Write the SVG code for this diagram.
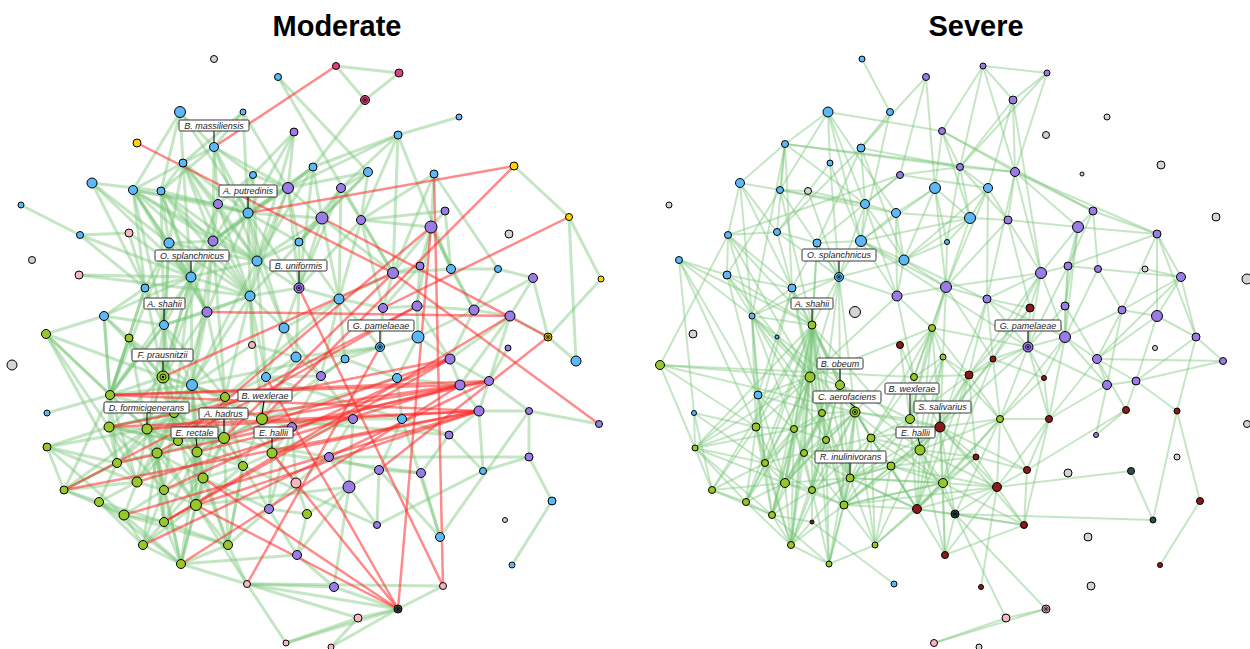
<svg xmlns="http://www.w3.org/2000/svg" width="1250" height="649" viewBox="0 0 1250 649">
<style>
.ge path{fill:none;stroke:#74c474;stroke-opacity:.42;stroke-width:3;stroke-linecap:round}
.gr path{fill:none;stroke:#74c474;stroke-opacity:.42;stroke-width:2;stroke-linecap:round}
.re path{fill:none;stroke:#ff2a2a;stroke-opacity:.55;stroke-width:2.5;stroke-linecap:round}
circle{stroke:#000;stroke-width:1}
.b{fill:#5cb8f7}.p{fill:#9b7be6}.g{fill:#97c72b}.k{fill:#f8b5c2}.y{fill:#d3d3d3}.o{fill:#ffd400}.m{fill:#e0407b}.d{fill:#8b1a1a}.s{fill:#2f4f4f}.n{fill:#4a4a4a}
.dr{fill:none;stroke:#000;stroke-width:.8}
.dt{fill:#000;stroke:none}
.lb rect{fill:#fff;stroke:#222;stroke-width:.9}
.lb line{stroke:#000;stroke-width:1}
.lb text{font-family:"Liberation Sans",Arial,sans-serif;font-style:italic;font-size:9px;fill:#222;text-anchor:middle}
.t{font-family:"Liberation Sans",Arial,sans-serif;font-weight:bold;font-size:29px;fill:#000;text-anchor:middle}
</style>
<rect width="1250" height="649" fill="#fff"/>
<text class="t" x="337" y="36">Moderate</text>
<text class="t" x="976" y="36">Severe</text>
<g id="connectors">
<g class="ge">
<path d="M278 77L368 172"/><path d="M278 77L393 273"/><path d="M336 66L399 73"/><path d="M336 66L365 100"/><path d="M399 73L365 100"/><path d="M365 100L313 167"/>
<path d="M180 112L183 163"/><path d="M180 112L133 190"/><path d="M180 112L214 147"/><path d="M243 112L214 147"/><path d="M243 112L183 163"/><path d="M214 147L183 163"/>
<path d="M214 147L161 191"/><path d="M214 147L248 213"/><path d="M214 147L253 175"/><path d="M214 147L288 188"/><path d="M183 163L133 190"/><path d="M183 163L161 191"/>
<path d="M183 163L169 243"/><path d="M183 163L191 277"/><path d="M183 163L248 213"/><path d="M183 163L218 204"/><path d="M92 183L145 288"/><path d="M21 205L80 235"/>
<path d="M80 235L129 233"/><path d="M129 233L191 277"/><path d="M133 190L248 213"/><path d="M133 190L169 243"/><path d="M133 190L191 277"/><path d="M133 190L250 296"/>
<path d="M133 190L164 325"/><path d="M133 190L213 241"/><path d="M161 191L248 213"/><path d="M161 191L169 243"/><path d="M161 191L191 277"/><path d="M161 191L257 261"/>
<path d="M161 191L207 312"/><path d="M459 117L398 135"/><path d="M398 135L313 167"/><path d="M398 135L288 188"/><path d="M398 135L393 273"/><path d="M398 135L451 269"/>
<path d="M398 135L361 220"/><path d="M398 135L341 188"/><path d="M434 174L431 227"/><path d="M434 174L498 269"/><path d="M434 174L393 273"/><path d="M434 174L361 220"/>
<path d="M368 172L341 188"/><path d="M368 172L361 220"/><path d="M368 172L322 218"/><path d="M368 172L288 188"/><path d="M514 166L569 217"/><path d="M569 217L576 361"/>
<path d="M569 217L601 279"/><path d="M313 167L288 188"/><path d="M313 167L322 218"/><path d="M313 167L248 213"/><path d="M313 167L213 241"/><path d="M294 132L288 188"/>
<path d="M294 132L248 213"/><path d="M294 132L253 175"/><path d="M253 175L248 213"/><path d="M253 175L218 204"/><path d="M288 188L248 213"/><path d="M288 188L257 261"/>
<path d="M288 188L299 288"/><path d="M288 188L299 242"/><path d="M288 188L322 218"/><path d="M341 188L322 218"/><path d="M341 188L361 220"/><path d="M341 188L299 288"/>
<path d="M341 188L339 299"/><path d="M218 204L248 213"/><path d="M218 204L213 241"/><path d="M248 213L213 241"/><path d="M248 213L257 261"/><path d="M248 213L299 242"/>
<path d="M248 213L191 277"/><path d="M248 213L250 296"/><path d="M248 213L299 288"/><path d="M248 213L284 328"/><path d="M248 213L322 218"/><path d="M445 211L431 227"/>
<path d="M445 211L361 220"/><path d="M445 211L451 269"/><path d="M322 218L299 288"/><path d="M322 218L250 296"/><path d="M322 218L339 299"/><path d="M322 218L393 273"/>
<path d="M361 220L431 227"/><path d="M361 220L393 273"/><path d="M361 220L383 308"/><path d="M431 227L420 266"/><path d="M431 227L393 273"/><path d="M431 227L417 306"/>
<path d="M431 227L474 310"/><path d="M431 227L451 269"/><path d="M169 243L191 277"/><path d="M169 243L164 325"/><path d="M169 243L213 241"/><path d="M213 241L191 277"/>
<path d="M213 241L250 296"/><path d="M213 241L207 312"/><path d="M299 242L299 288"/><path d="M299 242L257 261"/><path d="M257 261L250 296"/><path d="M257 261L299 288"/>
<path d="M79 275L191 277"/><path d="M79 275L250 296"/><path d="M191 277L164 325"/><path d="M191 277L250 296"/><path d="M191 277L207 312"/><path d="M191 277L163 377"/>
<path d="M191 277L192 385"/><path d="M145 288L164 325"/><path d="M145 288L163 377"/><path d="M145 288L169 243"/><path d="M299 288L250 296"/><path d="M299 288L284 328"/>
<path d="M299 288L296 357"/><path d="M250 296L207 312"/><path d="M250 296L284 328"/><path d="M250 296L192 385"/><path d="M250 296L266 377"/><path d="M207 312L164 325"/>
<path d="M207 312L192 385"/><path d="M207 312L163 377"/><path d="M207 312L225 397"/><path d="M104 316L164 325"/><path d="M104 316L163 377"/><path d="M104 316L129 338"/>
<path d="M164 325L163 377"/><path d="M164 325L192 385"/><path d="M164 325L174 413"/><path d="M164 325L147 429"/><path d="M46 334L104 316"/><path d="M46 334L163 377"/>
<path d="M46 334L109 427"/><path d="M129 338L163 377"/><path d="M129 338L110 395"/><path d="M284 328L296 357"/><path d="M284 328L266 377"/><path d="M284 328L339 299"/>
<path d="M296 357L266 377"/><path d="M296 357L262 419"/><path d="M296 357L321 376"/><path d="M163 377L192 385"/><path d="M163 377L110 395"/><path d="M163 377L225 397"/>
<path d="M163 377L147 429"/><path d="M163 377L174 413"/><path d="M163 377L224 438"/><path d="M163 377L178 441"/><path d="M163 377L197 452"/><path d="M266 377L262 419"/>
<path d="M266 377L225 397"/><path d="M192 385L225 397"/><path d="M192 385L262 419"/><path d="M192 385L174 413"/><path d="M192 385L224 438"/><path d="M110 395L147 429"/>
<path d="M110 395L109 427"/><path d="M110 395L174 413"/><path d="M110 395L117 463"/><path d="M225 397L262 419"/><path d="M225 397L224 438"/><path d="M225 397L272 453"/>
<path d="M262 419L224 438"/><path d="M262 419L272 453"/><path d="M262 419L243 466"/><path d="M147 429L174 413"/><path d="M147 429L109 427"/><path d="M147 429L178 441"/>
<path d="M147 429L157 453"/><path d="M147 429L117 463"/><path d="M147 429L137 482"/><path d="M174 413L178 441"/><path d="M174 413L224 438"/><path d="M174 413L197 452"/>
<path d="M224 438L178 441"/><path d="M224 438L197 452"/><path d="M224 438L243 466"/><path d="M224 438L203 478"/><path d="M109 427L47 447"/><path d="M109 427L117 463"/>
<path d="M109 427L157 453"/><path d="M178 441L197 452"/><path d="M178 441L157 453"/><path d="M178 441L203 478"/><path d="M197 452L203 478"/><path d="M197 452L196 505"/>
<path d="M197 452L243 466"/><path d="M272 453L243 466"/><path d="M272 453L269 509"/><path d="M272 453L296 483"/><path d="M47 447L117 463"/><path d="M47 447L64 490"/>
<path d="M117 463L137 482"/><path d="M117 463L64 490"/><path d="M117 463L99 502"/><path d="M157 453L137 482"/><path d="M157 453L164 490"/><path d="M157 453L203 478"/>
<path d="M137 482L164 490"/><path d="M137 482L99 502"/><path d="M137 482L124 515"/><path d="M203 478L164 490"/><path d="M203 478L196 505"/><path d="M64 490L99 502"/>
<path d="M64 490L124 515"/><path d="M164 490L196 505"/><path d="M164 490L164 522"/><path d="M99 502L124 515"/><path d="M196 505L164 522"/><path d="M196 505L228 545"/>
<path d="M196 505L181 564"/><path d="M124 515L143 545"/><path d="M124 515L164 522"/><path d="M164 522L181 564"/><path d="M164 522L143 545"/><path d="M143 545L181 564"/>
<path d="M228 545L181 564"/><path d="M243 466L228 545"/><path d="M243 466L269 509"/><path d="M307 514L297 555"/><path d="M269 509L307 514"/><path d="M228 545L269 509"/>
<path d="M296 483L307 514"/><path d="M47 413L110 395"/><path d="M247 584L286 643"/><path d="M247 584L398 609"/><path d="M247 584L358 618"/><path d="M247 584L334 587"/>
<path d="M247 584L443 586"/><path d="M286 643L358 618"/><path d="M286 643L398 609"/><path d="M398 609L358 618"/><path d="M398 609L331 647"/><path d="M398 609L443 586"/>
<path d="M358 618L331 647"/><path d="M334 587L398 609"/><path d="M297 555L334 587"/><path d="M181 564L297 555"/><path d="M420 266L393 273"/><path d="M420 266L383 308"/>
<path d="M420 266L417 306"/><path d="M393 273L339 299"/><path d="M393 273L383 308"/><path d="M393 273L451 269"/><path d="M451 269L498 269"/><path d="M451 269L474 310"/>
<path d="M498 269L474 310"/><path d="M498 269L533 278"/><path d="M533 278L510 316"/><path d="M533 278L474 310"/><path d="M533 278L548 337"/><path d="M601 279L548 337"/>
<path d="M510 316L548 337"/><path d="M548 337L576 361"/><path d="M510 316L474 310"/><path d="M510 316L450 359"/><path d="M510 316L460 385"/><path d="M510 316L489 381"/>
<path d="M339 299L383 308"/><path d="M339 299L380 347"/><path d="M339 299L345 359"/><path d="M339 299L321 376"/><path d="M383 308L417 306"/><path d="M383 308L380 347"/>
<path d="M417 306L418 337"/><path d="M417 306L474 310"/><path d="M417 306L450 359"/><path d="M474 310L450 359"/><path d="M474 310L418 337"/><path d="M380 347L345 359"/>
<path d="M380 347L418 337"/><path d="M380 347L397 378"/><path d="M418 337L450 359"/><path d="M418 337L397 378"/><path d="M345 359L321 376"/><path d="M345 359L397 378"/>
<path d="M450 359L460 385"/><path d="M450 359L489 381"/><path d="M508 348L489 381"/><path d="M321 376L353 419"/><path d="M397 378L460 385"/><path d="M397 378L402 419"/>
<path d="M460 385L479 411"/><path d="M460 385L489 381"/><path d="M489 381L479 411"/><path d="M489 381L529 411"/><path d="M353 419L402 419"/><path d="M353 419L329 457"/>
<path d="M353 419L349 487"/><path d="M402 419L449 435"/><path d="M402 419L379 470"/><path d="M479 411L449 435"/><path d="M479 411L483 471"/><path d="M479 411L529 411"/>
<path d="M529 411L440 537"/><path d="M529 411L529 457"/><path d="M449 435L421 473"/><path d="M449 435L483 471"/><path d="M329 457L349 487"/><path d="M329 457L529 457"/>
<path d="M379 470L349 487"/><path d="M379 470L421 473"/><path d="M349 487L377 525"/><path d="M349 487L334 587"/><path d="M421 473L440 537"/><path d="M483 471L529 457"/>
<path d="M483 471L377 525"/><path d="M529 457L552 501"/><path d="M552 501L512 565"/><path d="M329 457L379 470"/><path d="M349 487L297 555"/><path d="M262 419L397 378"/>
<path d="M292 427L321 376"/><path d="M292 427L353 419"/><path d="M272 453L353 419"/><path d="M262 419L345 359"/><path d="M192 385L380 347"/><path d="M225 397L339 299"/>
<path d="M266 377L321 376"/><path d="M296 357L380 347"/><path d="M292 427L269 509"/><path d="M292 427L296 483"/><path d="M296 483L269 509"/><path d="M269 509L297 555"/>
<path d="M296 483L329 457"/><path d="M307 514L349 487"/><path d="M243 466L377 525"/><path d="M228 545L247 584"/><path d="M181 564L247 584"/><path d="M196 505L247 584"/>
<path d="M299 242L339 299"/><path d="M257 261L284 328"/><path d="M299 288L339 299"/><path d="M284 328L321 376"/><path d="M599 424L529 411"/><path d="M440 537L402 419"/>
<path d="M440 537L379 470"/><path d="M377 525L379 470"/><path d="M292 427L262 419"/><path d="M292 427L272 453"/><path d="M272 453L421 473"/><path d="M262 419L449 435"/>
<path d="M224 438L329 457"/><path d="M196 505L349 487"/><path d="M203 478L269 509"/><path d="M266 377L402 419"/><path d="M252 345L250 296"/><path d="M252 345L192 385"/>
<path d="M252 345L296 357"/>
<path d="M46 334L110 395"/><path d="M46 334L147 429"/><path d="M46 334L117 463"/><path d="M47 447L147 429"/><path d="M47 447L137 482"/><path d="M47 447L124 515"/>
<path d="M64 490L117 463"/><path d="M64 490L137 482"/><path d="M64 490L147 429"/><path d="M64 490L110 395"/><path d="M99 502L143 545"/><path d="M99 502L164 522"/>
<path d="M99 502L181 564"/><path d="M124 515L181 564"/><path d="M124 515L164 490"/><path d="M124 515L228 545"/><path d="M143 545L196 505"/><path d="M143 545L164 490"/>
<path d="M143 545L157 453"/><path d="M181 564L164 490"/><path d="M181 564L203 478"/><path d="M181 564L157 453"/><path d="M181 564L197 452"/><path d="M228 545L203 478"/>
<path d="M228 545L243 466"/><path d="M228 545L197 452"/><path d="M228 545L224 438"/><path d="M228 545L164 522"/><path d="M164 522L157 453"/><path d="M164 522L203 478"/>
<path d="M164 522L197 452"/><path d="M164 522L147 429"/><path d="M196 505L157 453"/><path d="M196 505L243 466"/><path d="M196 505L147 429"/><path d="M196 505L224 438"/>
<path d="M196 505L174 413"/><path d="M196 505L192 385"/><path d="M164 490L147 429"/><path d="M164 490L197 452"/><path d="M164 490L109 427"/><path d="M164 490L174 413"/>
<path d="M137 482L109 427"/><path d="M137 482L110 395"/><path d="M137 482L178 441"/><path d="M137 482L174 413"/><path d="M117 463L174 413"/><path d="M117 463L157 453"/>
<path d="M157 453L174 413"/><path d="M157 453L224 438"/><path d="M157 453L192 385"/><path d="M203 478L174 413"/><path d="M203 478L192 385"/><path d="M203 478L225 397"/>
<path d="M203 478L243 466"/><path d="M243 466L225 397"/><path d="M243 466L192 385"/><path d="M243 466L174 413"/><path d="M197 452L192 385"/><path d="M197 452L225 397"/>
<path d="M197 452L147 429"/><path d="M197 452L262 419"/><path d="M178 441L192 385"/><path d="M178 441L225 397"/><path d="M178 441L109 427"/><path d="M224 438L147 429"/>
<path d="M224 438L266 377"/><path d="M174 413L225 397"/><path d="M174 413L109 427"/><path d="M147 429L192 385"/><path d="M147 429L225 397"/><path d="M110 395L192 385"/>
<path d="M110 395L164 325"/><path d="M110 395L145 288"/><path d="M110 395L104 316"/><path d="M109 427L163 377"/><path d="M109 427L174 413"/><path d="M109 427L178 441"/>
<path d="M191 277L110 395"/><path d="M191 277L147 429"/><path d="M191 277L174 413"/><path d="M169 243L163 377"/><path d="M169 243L110 395"/><path d="M213 241L163 377"/>
<path d="M213 241L192 385"/><path d="M213 241L225 397"/><path d="M145 288L110 395"/><path d="M207 312L174 413"/><path d="M250 296L225 397"/><path d="M250 296L262 419"/>
<path d="M164 325L225 397"/><path d="M164 325L110 395"/><path d="M257 261L266 377"/><path d="M257 261L192 385"/><path d="M248 213L207 312"/><path d="M133 190L145 288"/>
<path d="M92 183L169 243"/><path d="M92 183L191 277"/><path d="M92 183L161 191"/><path d="M80 235L145 288"/><path d="M80 235L191 277"/><path d="M129 233L145 288"/>
<path d="M104 316L110 395"/><path d="M104 316L145 288"/><path d="M104 316L191 277"/><path d="M129 338L147 429"/><path d="M129 338L174 413"/><path d="M129 338L192 385"/>
<path d="M133 190L218 204"/><path d="M133 190L257 261"/><path d="M133 190L207 312"/><path d="M161 191L250 296"/><path d="M161 191L213 241"/><path d="M161 191L164 325"/>
<path d="M183 163L213 241"/><path d="M183 163L250 296"/><path d="M183 163L257 261"/><path d="M214 147L218 204"/><path d="M214 147L213 241"/><path d="M214 147L257 261"/>
<path d="M180 112L161 191"/><path d="M180 112L248 213"/><path d="M243 112L248 213"/><path d="M243 112L288 188"/><path d="M253 175L213 241"/><path d="M253 175L257 261"/>
<path d="M253 175L288 188"/><path d="M288 188L250 296"/><path d="M288 188L213 241"/><path d="M218 204L257 261"/><path d="M218 204L191 277"/><path d="M218 204L250 296"/>
<path d="M169 243L250 296"/><path d="M169 243L207 312"/><path d="M169 243L257 261"/><path d="M213 241L257 261"/><path d="M257 261L191 277"/><path d="M191 277L145 288"/>
<path d="M164 325L250 296"/><path d="M313 167L257 261"/><path d="M313 167L299 288"/><path d="M294 132L257 261"/><path d="M322 218L257 261"/><path d="M341 188L299 242"/>
<path d="M368 172L299 242"/><path d="M361 220L339 299"/><path d="M361 220L299 288"/>
</g>
<g class="re">
<path d="M336 66L214 147"/><path d="M137 143L393 273"/><path d="M248 213L514 166"/><path d="M514 166L262 419"/><path d="M569 217L383 308"/><path d="M431 227L398 609"/>
<path d="M434 174L443 586"/><path d="M299 288L443 586"/><path d="M110 395L460 385"/><path d="M110 395L479 411"/><path d="M110 395L489 381"/><path d="M64 490L479 411"/>
<path d="M64 490L417 306"/><path d="M109 427L450 359"/><path d="M147 429L479 411"/><path d="M117 463L489 381"/><path d="M124 515L479 411"/><path d="M164 522L450 359"/>
<path d="M164 522L510 316"/><path d="M181 564L460 385"/><path d="M196 505L479 411"/><path d="M196 505L398 609"/><path d="M203 478L398 609"/><path d="M266 377L398 609"/>
<path d="M163 377L393 273"/><path d="M157 453L417 306"/><path d="M224 438L450 359"/><path d="M197 452L460 385"/><path d="M178 441L431 227"/><path d="M224 438L393 273"/>
<path d="M262 419L489 381"/><path d="M272 453L479 411"/><path d="M548 337L379 470"/><path d="M207 312L510 316"/><path d="M322 218L548 337"/><path d="M393 273L599 424"/>
<path d="M247 584L380 347"/><path d="M272 453L398 609"/><path d="M147 429L460 385"/><path d="M109 427L479 411"/><path d="M143 545L489 381"/><path d="M137 482L460 385"/>
<path d="M164 490L450 359"/>
</g>
<g class="gr">
<path d="M862 59L890 112"/><path d="M926 77L861 148"/><path d="M926 77L935 188"/><path d="M926 77L900 175"/><path d="M828 112L785 144"/><path d="M828 112L830 163"/>
<path d="M828 112L865 204"/><path d="M828 112L896 213"/><path d="M828 112L942 131"/><path d="M890 112L861 148"/><path d="M890 112L861 241"/><path d="M785 144L740 183"/>
<path d="M785 144L780 190"/><path d="M785 144L960 167"/><path d="M785 144L752 316"/><path d="M785 144L792 288"/><path d="M785 144L777 232"/><path d="M861 148L777 232"/>
<path d="M861 148L817 243"/><path d="M861 148L960 167"/><path d="M830 163L777 232"/><path d="M900 175L728 235"/><path d="M900 175L960 167"/><path d="M900 175L865 204"/>
<path d="M900 175L817 243"/><path d="M935 188L861 241"/><path d="M935 188L942 131"/><path d="M935 188L970 218"/><path d="M935 188L947 242"/><path d="M740 183L780 190"/>
<path d="M740 183L792 288"/><path d="M740 183L752 316"/><path d="M780 190L808 191"/><path d="M780 190L865 204"/><path d="M780 190L896 213"/><path d="M780 190L839 277"/>
<path d="M780 190L812 325"/><path d="M780 190L727 275"/><path d="M808 191L865 204"/><path d="M865 204L861 241"/><path d="M865 204L896 213"/><path d="M865 204L839 277"/>
<path d="M896 213L861 241"/><path d="M896 213L904 260"/><path d="M896 213L897 296"/><path d="M728 235L777 232"/><path d="M728 235L727 275"/><path d="M728 235L752 316"/>
<path d="M728 235L660 365"/><path d="M777 232L817 243"/><path d="M777 232L839 277"/><path d="M777 232L792 288"/><path d="M817 243L861 241"/><path d="M817 243L839 277"/>
<path d="M817 243L812 325"/><path d="M861 241L904 260"/><path d="M861 241L839 277"/><path d="M861 241L897 296"/><path d="M861 241L946 287"/><path d="M983 66L1047 73"/>
<path d="M983 66L1013 100"/><path d="M983 66L942 131"/><path d="M983 66L960 167"/><path d="M1047 73L1013 100"/><path d="M1047 73L960 167"/><path d="M1013 100L960 167"/>
<path d="M1013 100L1041 273"/><path d="M1013 100L988 188"/><path d="M942 131L1015 172"/><path d="M942 131L960 167"/><path d="M942 131L1093 211"/><path d="M960 167L1015 172"/>
<path d="M960 167L988 188"/><path d="M960 167L970 218"/><path d="M960 167L1008 220"/><path d="M1015 172L1157 234"/><path d="M1015 172L1078 227"/><path d="M1015 172L1008 220"/>
<path d="M1015 172L1041 273"/><path d="M1093 211L1157 234"/><path d="M1093 211L1078 227"/><path d="M1157 234L1078 227"/><path d="M1157 234L1157 316"/><path d="M1157 234L1181 277"/>
<path d="M1157 234L1122 310"/><path d="M970 218L947 242"/><path d="M970 218L988 188"/><path d="M970 218L1008 220"/><path d="M970 218L946 287"/><path d="M1008 220L1078 227"/>
<path d="M1008 220L1041 273"/><path d="M1008 220L1030 308"/><path d="M1078 227L1041 273"/><path d="M1078 227L1068 266"/><path d="M1078 227L1065 306"/><path d="M1078 227L1065 337"/>
<path d="M947 242L904 260"/><path d="M947 242L946 287"/><path d="M679 260L727 275"/><path d="M679 260L694 413"/><path d="M727 275L792 288"/><path d="M839 277L792 288"/>
<path d="M839 277L812 325"/><path d="M839 277L904 260"/><path d="M839 277L897 296"/><path d="M839 277L810 377"/><path d="M839 277L840 385"/><path d="M792 288L812 325"/>
<path d="M792 288L752 316"/><path d="M792 288L810 377"/><path d="M792 288L758 395"/><path d="M752 316L840 385"/><path d="M752 316L855 412"/><path d="M752 316L810 377"/>
<path d="M752 316L822 413"/><path d="M752 316L812 325"/><path d="M752 316L756 427"/><path d="M812 325L810 377"/><path d="M812 325L840 385"/><path d="M812 325L822 413"/>
<path d="M812 325L794 429"/><path d="M812 325L756 427"/><path d="M812 325L855 412"/><path d="M812 325L826 440"/><path d="M812 325L765 463"/><path d="M812 325L785 483"/>
<path d="M812 325L804 453"/><path d="M812 325L850 478"/><path d="M660 365L914 377"/><path d="M758 395L810 377"/><path d="M758 395L756 427"/><path d="M694 413L695 448"/>
<path d="M932 328L914 377"/><path d="M932 328L910 419"/><path d="M932 328L943 357"/><path d="M932 328L810 377"/><path d="M932 328L1028 347"/><path d="M932 328L871 438"/>
<path d="M932 328L855 412"/><path d="M900 345L914 377"/><path d="M900 345L910 419"/><path d="M946 287L987 299"/><path d="M946 287L1041 273"/><path d="M946 287L897 296"/>
<path d="M946 287L932 328"/><path d="M946 287L943 357"/><path d="M946 287L993 359"/><path d="M1041 273L1068 266"/><path d="M1041 273L1028 347"/><path d="M1041 273L1030 308"/>
<path d="M1041 273L1065 337"/><path d="M1041 273L987 299"/><path d="M1041 273L993 359"/><path d="M1068 266L1098 269"/><path d="M1068 266L1065 306"/><path d="M1068 266L1065 337"/>
<path d="M1098 269L1181 277"/><path d="M1098 269L1122 310"/><path d="M1181 277L1157 316"/><path d="M1181 277L1196 337"/><path d="M1181 277L1122 310"/><path d="M1181 277L1097 359"/>
<path d="M987 299L1028 347"/><path d="M987 299L1030 308"/><path d="M987 299L993 359"/><path d="M987 299L969 375"/><path d="M1030 308L1028 347"/><path d="M1065 306L1065 337"/>
<path d="M1065 306L1097 359"/><path d="M1122 310L1157 316"/><path d="M1122 310L1097 359"/><path d="M1122 310L1065 337"/><path d="M1122 310L1107 385"/><path d="M1157 316L1196 337"/>
<path d="M1157 316L1097 359"/><path d="M1157 316L1136 381"/><path d="M1028 347L1065 337"/><path d="M1028 347L993 359"/><path d="M1028 347L1044 378"/><path d="M1028 347L969 375"/>
<path d="M1028 347L1000 419"/><path d="M1028 347L940 427"/><path d="M1065 337L1097 359"/><path d="M1065 337L1107 385"/><path d="M1065 337L1044 378"/><path d="M1065 337L1049 419"/>
<path d="M1196 337L1223 361"/><path d="M1196 337L1136 381"/><path d="M1196 337L1177 411"/><path d="M1097 359L1107 385"/><path d="M1097 359L1136 381"/><path d="M1097 359L1049 419"/>
<path d="M1097 359L1126 410"/><path d="M1223 361L1136 381"/><path d="M1223 361L1097 359"/><path d="M1107 385L1136 381"/><path d="M1107 385L1096 435"/><path d="M1107 385L1049 419"/>
<path d="M1136 381L1177 411"/><path d="M1136 381L1126 410"/><path d="M1126 410L1096 435"/><path d="M1126 410L1027 470"/><path d="M993 359L969 375"/><path d="M993 359L1000 419"/>
<path d="M993 359L1044 378"/><path d="M993 359L940 427"/><path d="M943 357L969 375"/><path d="M943 357L940 427"/><path d="M943 357L1000 419"/><path d="M969 375L1000 419"/>
<path d="M969 375L940 427"/><path d="M969 375L976 457"/><path d="M1044 378L1049 419"/><path d="M1044 378L1000 419"/><path d="M1000 419L1049 419"/><path d="M1000 419L940 427"/>
<path d="M1000 419L997 487"/><path d="M1000 419L1027 470"/><path d="M1049 419L1027 470"/><path d="M1049 419L997 487"/><path d="M1049 419L1024 525"/><path d="M840 385L810 377"/>
<path d="M840 385L855 412"/><path d="M840 385L822 413"/><path d="M840 385L826 440"/><path d="M840 385L871 438"/><path d="M810 377L822 413"/><path d="M810 377L756 427"/>
<path d="M810 377L794 429"/><path d="M810 377L695 448"/><path d="M914 377L910 419"/><path d="M914 377L940 427"/><path d="M914 377L969 375"/><path d="M855 412L822 413"/>
<path d="M855 412L826 440"/><path d="M855 412L871 438"/><path d="M855 412L910 419"/><path d="M855 412L850 478"/><path d="M855 412L844 505"/><path d="M855 412L940 427"/>
<path d="M855 412L812 490"/><path d="M855 412L785 483"/><path d="M910 419L940 427"/><path d="M910 419L871 438"/><path d="M910 419L920 450"/><path d="M910 419L943 357"/>
<path d="M940 427L920 450"/><path d="M940 427L917 509"/><path d="M940 427L976 457"/><path d="M940 427L943 483"/><path d="M940 427L997 487"/><path d="M940 427L871 438"/>
<path d="M920 450L871 438"/><path d="M920 450L891 466"/><path d="M920 450L917 509"/><path d="M920 450L943 483"/><path d="M920 450L976 457"/><path d="M822 413L794 429"/>
<path d="M822 413L826 440"/><path d="M756 427L794 429"/><path d="M756 427L765 463"/><path d="M756 427L746 502"/><path d="M756 427L695 448"/><path d="M794 429L826 440"/>
<path d="M794 429L765 463"/><path d="M794 429L804 453"/><path d="M794 429L785 483"/><path d="M826 440L804 453"/><path d="M826 440L850 478"/><path d="M826 440L812 490"/>
<path d="M871 438L850 478"/><path d="M871 438L891 466"/><path d="M871 438L917 509"/><path d="M695 448L712 490"/><path d="M695 448L765 463"/><path d="M695 448L746 502"/>
<path d="M765 463L804 453"/><path d="M765 463L785 483"/><path d="M765 463L746 502"/><path d="M765 463L772 515"/><path d="M804 453L850 478"/><path d="M804 453L785 483"/>
<path d="M804 453L812 490"/><path d="M850 478L891 466"/><path d="M850 478L812 490"/><path d="M850 478L844 505"/><path d="M850 478L917 509"/><path d="M891 466L917 509"/>
<path d="M891 466L844 505"/><path d="M891 466L976 457"/><path d="M712 490L746 502"/><path d="M712 490L765 463"/><path d="M785 483L812 490"/><path d="M785 483L772 515"/>
<path d="M785 483L791 545"/><path d="M812 490L844 505"/><path d="M812 490L812 522"/><path d="M812 490L791 545"/><path d="M746 502L772 515"/><path d="M746 502L791 545"/>
<path d="M844 505L917 509"/><path d="M844 505L875 545"/><path d="M844 505L829 564"/><path d="M772 515L791 545"/><path d="M772 515L812 522"/><path d="M812 522L894 584"/>
<path d="M791 545L829 564"/><path d="M875 545L829 564"/><path d="M875 545L917 509"/><path d="M917 509L943 483"/><path d="M917 509L997 487"/><path d="M917 509L976 457"/>
<path d="M917 509L945 555"/><path d="M976 457L997 487"/><path d="M976 457L943 483"/><path d="M976 457L1027 470"/><path d="M1027 470L997 487"/><path d="M1027 470L1024 525"/>
<path d="M997 487L955 514"/><path d="M997 487L1024 525"/><path d="M997 487L943 483"/><path d="M943 483L955 514"/><path d="M943 483L945 555"/><path d="M955 514L1024 525"/>
<path d="M955 514L945 555"/><path d="M955 514L1046 609"/><path d="M955 514L1153 520"/><path d="M981 587L997 487"/><path d="M1131 471L1153 520"/><path d="M1131 471L997 487"/>
<path d="M1153 520L1177 411"/><path d="M1200 501L1177 411"/><path d="M1200 501L1160 565"/><path d="M1046 609L1006 618"/><path d="M1006 618L934 643"/><path d="M1046 609L934 643"/>
<path d="M1006 618L955 514"/><path d="M1024 525L945 555"/><path d="M945 555L997 487"/><path d="M943 483L855 412"/><path d="M917 509L855 412"/><path d="M871 438L844 505"/>
<path d="M850 478L829 564"/><path d="M920 450L875 545"/><path d="M904 260L946 287"/><path d="M904 260L897 296"/><path d="M897 296L932 328"/><path d="M897 296L914 377"/>
<path d="M897 296L810 377"/><path d="M935 188L946 287"/><path d="M988 188L946 287"/><path d="M988 188L987 299"/><path d="M1015 172L987 299"/><path d="M861 241L1028 347"/>
<path d="M904 260L1065 337"/><path d="M727 275L810 377"/><path d="M660 365L855 412"/><path d="M679 260L812 325"/><path d="M758 395L765 463"/><path d="M694 413L756 427"/>
<path d="M728 235L810 377"/><path d="M1145 269L1181 277"/>
<path d="M812 325L712 490"/><path d="M812 325L746 502"/><path d="M812 325L772 515"/><path d="M812 325L812 490"/><path d="M812 325L844 505"/><path d="M812 325L791 545"/>
<path d="M812 325L829 564"/><path d="M812 325L695 448"/><path d="M812 325L871 438"/><path d="M812 325L920 450"/><path d="M810 377L765 463"/><path d="M810 377L785 483"/>
<path d="M810 377L804 453"/><path d="M810 377L826 440"/><path d="M810 377L746 502"/><path d="M810 377L772 515"/><path d="M810 377L791 545"/><path d="M840 385L804 453"/>
<path d="M840 385L850 478"/><path d="M840 385L785 483"/><path d="M840 385L812 490"/><path d="M840 385L844 505"/><path d="M840 385L910 419"/><path d="M840 385L920 450"/>
<path d="M855 412L804 453"/><path d="M855 412L794 429"/><path d="M855 412L791 545"/><path d="M855 412L829 564"/><path d="M855 412L875 545"/><path d="M822 413L765 463"/>
<path d="M822 413L804 453"/><path d="M822 413L850 478"/><path d="M822 413L785 483"/><path d="M822 413L812 490"/><path d="M822 413L844 505"/><path d="M756 427L712 490"/>
<path d="M756 427L785 483"/><path d="M756 427L772 515"/><path d="M756 427L791 545"/><path d="M794 429L812 490"/><path d="M794 429L746 502"/><path d="M794 429L772 515"/>
<path d="M794 429L791 545"/><path d="M826 440L785 483"/><path d="M826 440L844 505"/><path d="M826 440L791 545"/><path d="M826 440L829 564"/><path d="M871 438L804 453"/>
<path d="M871 438L812 490"/><path d="M871 438L875 545"/><path d="M871 438L943 483"/><path d="M695 448L785 483"/><path d="M695 448L772 515"/><path d="M695 448L794 429"/>
<path d="M765 463L791 545"/><path d="M765 463L812 490"/><path d="M804 453L844 505"/><path d="M804 453L772 515"/><path d="M804 453L791 545"/><path d="M850 478L785 483"/>
<path d="M850 478L791 545"/><path d="M850 478L875 545"/><path d="M850 478L943 483"/><path d="M891 466L875 545"/><path d="M891 466L943 483"/><path d="M891 466L812 490"/>
<path d="M712 490L772 515"/><path d="M712 490L785 483"/><path d="M785 483L844 505"/><path d="M785 483L746 502"/><path d="M812 490L772 515"/><path d="M812 490L829 564"/>
<path d="M844 505L791 545"/><path d="M844 505L943 483"/><path d="M772 515L829 564"/><path d="M910 419L850 478"/><path d="M910 419L891 466"/><path d="M910 419L917 509"/>
<path d="M910 419L844 505"/><path d="M940 427L891 466"/><path d="M940 427L844 505"/><path d="M940 427L850 478"/><path d="M940 427L1027 470"/><path d="M940 427L955 514"/>
<path d="M940 427L945 555"/><path d="M940 427L1024 525"/><path d="M920 450L844 505"/><path d="M920 450L850 478"/><path d="M920 450L955 514"/><path d="M920 450L997 487"/>
<path d="M920 450L945 555"/><path d="M943 483L844 505"/><path d="M943 483L850 478"/><path d="M943 483L875 545"/><path d="M943 483L1024 525"/><path d="M917 509L955 514"/>
<path d="M917 509L1024 525"/><path d="M917 509L850 478"/><path d="M997 487L844 505"/><path d="M997 487L891 466"/><path d="M1000 419L943 483"/><path d="M1000 419L917 509"/>
<path d="M1000 419L955 514"/><path d="M1000 419L920 450"/><path d="M969 375L943 483"/><path d="M969 375L917 509"/><path d="M969 375L920 450"/><path d="M969 375L910 419"/>
<path d="M993 359L920 450"/><path d="M993 359L943 483"/><path d="M943 357L914 377"/><path d="M943 357L920 450"/><path d="M943 357L917 509"/><path d="M914 377L920 450"/>
<path d="M914 377L871 438"/><path d="M932 328L940 427"/><path d="M932 328L920 450"/><path d="M932 328L969 375"/><path d="M758 395L822 413"/><path d="M758 395L794 429"/>
<path d="M758 395L785 483"/><path d="M758 395L695 448"/><path d="M752 316L794 429"/><path d="M752 316L826 440"/><path d="M752 316L765 463"/><path d="M752 316L758 395"/>
<path d="M660 365L756 427"/><path d="M660 365L695 448"/><path d="M660 365L810 377"/><path d="M694 413L765 463"/><path d="M694 413L712 490"/><path d="M679 260L752 316"/>
<path d="M679 260L758 395"/><path d="M679 260L756 427"/><path d="M727 275L812 325"/><path d="M727 275L752 316"/><path d="M727 275L758 395"/><path d="M728 235L812 325"/>
<path d="M728 235L792 288"/><path d="M792 288L840 385"/><path d="M792 288L822 413"/><path d="M792 288L756 427"/><path d="M839 277L855 412"/><path d="M839 277L822 413"/>
<path d="M839 277L752 316"/><path d="M817 243L792 288"/><path d="M817 243L810 377"/><path d="M946 287L914 377"/><path d="M946 287L910 419"/><path d="M987 299L940 427"/>
<path d="M1041 273L969 375"/><path d="M1030 308L969 375"/><path d="M1030 308L993 359"/><path d="M1028 347L1049 419"/><path d="M1028 347L1107 385"/><path d="M1065 337L1000 419"/>
<path d="M1065 306L1028 347"/><path d="M1068 266L1028 347"/><path d="M1098 269L1065 337"/>
<path d="M785 144L865 204"/><path d="M785 144L1015 172"/><path d="M828 112L780 190"/><path d="M828 112L861 241"/><path d="M861 148L865 204"/><path d="M861 148L904 260"/>
<path d="M830 163L861 241"/><path d="M830 163L839 277"/><path d="M740 183L777 232"/><path d="M740 183L728 235"/><path d="M808 191L839 277"/><path d="M865 204L904 260"/>
<path d="M865 204L897 296"/><path d="M896 213L970 218"/><path d="M896 213L935 188"/><path d="M861 241L970 218"/><path d="M942 131L970 218"/><path d="M960 167L947 242"/>
<path d="M988 188L904 260"/><path d="M988 188L1008 220"/><path d="M1013 100L1015 172"/><path d="M983 66L1015 172"/><path d="M1047 73L1015 172"/><path d="M900 175L988 188"/>
<path d="M935 188L904 260"/><path d="M970 218L904 260"/><path d="M1008 220L946 287"/><path d="M1093 211L1068 266"/><path d="M1093 211L1098 269"/><path d="M1157 234L1068 266"/>
<path d="M1157 234L1196 337"/><path d="M1015 172L1093 211"/>
</g>
</g>
<g id="m1"><circle class="y" cx="214" cy="59" r="3.5"/></g>
<g id="m2"><circle class="b" cx="278" cy="77" r="3.5"/></g>
<g id="m3"><circle class="m" cx="336" cy="66" r="3.5"/></g>
<g id="m4"><circle class="m" cx="399" cy="73" r="4"/></g>
<g id="m5"><circle class="m" cx="365" cy="100" r="4.5"/><circle class="dr" cx="365" cy="100" r="2.3"/><circle class="dt" cx="365" cy="100" r="1"/></g>
<g id="m6"><circle class="b" cx="180" cy="112" r="5.5"/></g>
<g id="m7"><circle class="b" cx="243" cy="112" r="3"/></g>
<g id="m8"><circle class="b" cx="459" cy="117" r="3"/></g>
<g id="m9"><circle class="p" cx="294" cy="132" r="4"/></g>
<g id="m10"><circle class="b" cx="398" cy="135" r="4"/></g>
<g id="m11"><circle class="o" cx="137" cy="143" r="4"/></g>
<g id="m13"><circle class="b" cx="183" cy="163" r="4"/></g>
<g id="m14"><circle class="b" cx="313" cy="167" r="4"/></g>
<g id="m15"><circle class="b" cx="368" cy="172" r="4.5"/></g>
<g id="m16"><circle class="b" cx="434" cy="174" r="4"/></g>
<g id="m17"><circle class="o" cx="514" cy="166" r="4"/></g>
<g id="m18"><circle class="b" cx="253" cy="175" r="3.5"/></g>
<g id="m19"><circle class="b" cx="92" cy="183" r="5"/></g>
<g id="m20"><circle class="b" cx="133" cy="190" r="4.5"/></g>
<g id="m21"><circle class="b" cx="161" cy="191" r="4"/></g>
<g id="m22"><circle class="p" cx="288" cy="188" r="5.5"/></g>
<g id="m23"><circle class="p" cx="341" cy="188" r="4.5"/></g>
<g id="m24"><circle class="p" cx="218" cy="204" r="4.5"/></g>
<g id="m25"><circle class="b" cx="21" cy="205" r="3"/></g>
<g id="m27"><circle class="p" cx="445" cy="211" r="4"/></g>
<g id="m28"><circle class="p" cx="322" cy="218" r="6"/></g>
<g id="m29"><circle class="p" cx="361" cy="220" r="4.5"/></g>
<g id="m30"><circle class="p" cx="431" cy="227" r="6"/></g>
<g id="m31"><circle class="o" cx="569" cy="217" r="3.5"/></g>
<g id="m32"><circle class="y" cx="509" cy="234" r="4"/></g>
<g id="m33"><circle class="b" cx="80" cy="235" r="3.5"/></g>
<g id="m34"><circle class="k" cx="129" cy="233" r="4"/></g>
<g id="m35"><circle class="b" cx="169" cy="243" r="5"/></g>
<g id="m36"><circle class="p" cx="213" cy="241" r="5"/></g>
<g id="m37"><circle class="b" cx="299" cy="242" r="4"/></g>
<g id="m38"><circle class="y" cx="32" cy="260" r="3.5"/></g>
<g id="m39"><circle class="b" cx="257" cy="261" r="5"/></g>
<g id="m40"><circle class="k" cx="79" cy="275" r="4"/></g>
<g id="m42"><circle class="b" cx="145" cy="288" r="4"/></g>
<g id="m44"><circle class="b" cx="250" cy="296" r="5"/></g>
<g id="m45"><circle class="p" cx="207" cy="312" r="5"/></g>
<g id="m46"><circle class="b" cx="104" cy="316" r="4.5"/></g>
<g id="m48"><circle class="g" cx="46" cy="334" r="4.5"/></g>
<g id="m49"><circle class="g" cx="129" cy="338" r="4"/></g>
<g id="m50"><circle class="b" cx="284" cy="328" r="5"/></g>
<g id="m51"><circle class="k" cx="252" cy="345" r="3.5"/></g>
<g id="m52"><circle class="b" cx="296" cy="357" r="5"/></g>
<g id="m53"><circle class="y" cx="12" cy="365" r="5"/></g>
<g id="m55"><circle class="b" cx="266" cy="377" r="4.5"/></g>
<g id="m56"><circle class="b" cx="192" cy="385" r="5.5"/></g>
<g id="m57"><circle class="g" cx="110" cy="395" r="4.5"/></g>
<g id="m58"><circle class="g" cx="225" cy="397" r="4.5"/></g>
<g id="m60"><circle class="b" cx="47" cy="413" r="3"/></g>
<g id="m62"><circle class="g" cx="174" cy="413" r="4.5"/></g>
<g id="m63"><circle class="p" cx="292" cy="427" r="4.5"/></g>
<g id="m65"><circle class="g" cx="109" cy="427" r="5"/></g>
<g id="m66"><circle class="g" cx="178" cy="441" r="4.5"/></g>
<g id="m69"><circle class="g" cx="47" cy="447" r="4"/></g>
<g id="m70"><circle class="g" cx="117" cy="463" r="4.5"/></g>
<g id="m71"><circle class="g" cx="157" cy="453" r="5"/></g>
<g id="m72"><circle class="g" cx="243" cy="466" r="4.5"/></g>
<g id="m73"><circle class="g" cx="137" cy="482" r="5"/></g>
<g id="m74"><circle class="g" cx="203" cy="478" r="5"/></g>
<g id="m75"><circle class="k" cx="296" cy="483" r="5"/></g>
<g id="m76"><circle class="g" cx="64" cy="490" r="4"/></g>
<g id="m77"><circle class="g" cx="164" cy="490" r="4.5"/></g>
<g id="m78"><circle class="g" cx="99" cy="502" r="4.5"/></g>
<g id="m79"><circle class="g" cx="196" cy="505" r="5.5"/></g>
<g id="m80"><circle class="p" cx="269" cy="509" r="4.5"/></g>
<g id="m81"><circle class="g" cx="307" cy="514" r="4.5"/></g>
<g id="m82"><circle class="g" cx="124" cy="515" r="5"/></g>
<g id="m83"><circle class="g" cx="164" cy="522" r="4.5"/></g>
<g id="m84"><circle class="g" cx="143" cy="545" r="4.5"/></g>
<g id="m85"><circle class="g" cx="228" cy="545" r="4.5"/></g>
<g id="m86"><circle class="g" cx="181" cy="564" r="4.5"/></g>
<g id="m87"><circle class="p" cx="297" cy="555" r="4.5"/></g>
<g id="m88"><circle class="k" cx="247" cy="584" r="3.5"/></g>
<g id="m89"><circle class="k" cx="286" cy="643" r="3"/></g>
<g id="m90"><circle class="p" cx="420" cy="266" r="4"/></g>
<g id="m91"><circle class="p" cx="393" cy="273" r="5.5"/></g>
<g id="m92"><circle class="b" cx="451" cy="269" r="4.5"/></g>
<g id="m93"><circle class="b" cx="498" cy="269" r="3.5"/></g>
<g id="m94"><circle class="p" cx="533" cy="278" r="4.5"/></g>
<g id="m95"><circle class="o" cx="601" cy="279" r="3"/></g>
<g id="m96"><circle class="b" cx="339" cy="299" r="5"/></g>
<g id="m97"><circle class="p" cx="383" cy="308" r="4.5"/></g>
<g id="m98"><circle class="p" cx="417" cy="306" r="5"/></g>
<g id="m99"><circle class="p" cx="474" cy="310" r="5"/></g>
<g id="m100"><circle class="p" cx="510" cy="316" r="5"/></g>
<g id="m102"><circle class="b" cx="418" cy="337" r="6"/></g>
<g id="m103"><circle class="o" cx="548" cy="337" r="4"/><circle class="dr" cx="548" cy="337" r="2.2"/><circle class="dt" cx="548" cy="337" r="1"/></g>
<g id="m104"><circle class="b" cx="345" cy="359" r="4"/></g>
<g id="m105"><circle class="p" cx="450" cy="359" r="5"/></g>
<g id="m106"><circle class="p" cx="508" cy="348" r="3"/></g>
<g id="m107"><circle class="b" cx="576" cy="361" r="5"/></g>
<g id="m108"><circle class="p" cx="321" cy="376" r="4.5"/></g>
<g id="m109"><circle class="b" cx="397" cy="378" r="4.5"/></g>
<g id="m110"><circle class="p" cx="460" cy="385" r="5"/></g>
<g id="m111"><circle class="p" cx="489" cy="381" r="4.5"/></g>
<g id="m112"><circle class="p" cx="353" cy="419" r="4.5"/></g>
<g id="m113"><circle class="b" cx="402" cy="419" r="4.5"/></g>
<g id="m114"><circle class="p" cx="479" cy="411" r="5"/></g>
<g id="m115"><circle class="p" cx="529" cy="411" r="3.5"/></g>
<g id="m116"><circle class="p" cx="599" cy="424" r="3.5"/></g>
<g id="m117"><circle class="p" cx="449" cy="435" r="4"/></g>
<g id="m118"><circle class="p" cx="329" cy="457" r="4.5"/></g>
<g id="m119"><circle class="p" cx="379" cy="470" r="4.5"/></g>
<g id="m120"><circle class="p" cx="349" cy="487" r="6"/></g>
<g id="m121"><circle class="p" cx="421" cy="473" r="4.5"/></g>
<g id="m122"><circle class="b" cx="483" cy="471" r="3.5"/></g>
<g id="m123"><circle class="p" cx="529" cy="457" r="4"/></g>
<g id="m124"><circle class="b" cx="552" cy="501" r="4"/></g>
<g id="m125"><circle class="y" cx="505" cy="520" r="2.5"/></g>
<g id="m126"><circle class="p" cx="377" cy="525" r="3.5"/></g>
<g id="m127"><circle class="b" cx="440" cy="537" r="4.5"/></g>
<g id="m128"><circle class="b" cx="512" cy="565" r="3"/></g>
<g id="m129"><circle class="p" cx="334" cy="587" r="4.5"/></g>
<g id="m130"><circle class="k" cx="443" cy="586" r="3.5"/></g>
<g id="m131"><circle class="n" cx="398" cy="609" r="4"/><circle class="dr" cx="398" cy="609" r="2.2"/><circle class="dt" cx="398" cy="609" r="1"/></g>
<g id="m132"><circle class="k" cx="358" cy="618" r="4"/></g>
<g id="m133"><circle class="k" cx="331" cy="647" r="3"/></g>
<g id="s1"><circle class="b" cx="862" cy="59" r="3"/></g>
<g id="s2"><circle class="p" cx="926" cy="77" r="3.5"/></g>
<g id="s3"><circle class="b" cx="828" cy="112" r="5"/></g>
<g id="s4"><circle class="b" cx="890" cy="112" r="3.5"/></g>
<g id="s5"><circle class="b" cx="785" cy="144" r="3.5"/></g>
<g id="s6"><circle class="b" cx="861" cy="148" r="4"/></g>
<g id="s7"><circle class="b" cx="830" cy="163" r="3"/></g>
<g id="s8"><circle class="p" cx="900" cy="175" r="3.5"/></g>
<g id="s9"><circle class="b" cx="935" cy="188" r="5.5"/></g>
<g id="s10"><circle class="b" cx="740" cy="183" r="4.5"/></g>
<g id="s11"><circle class="b" cx="780" cy="190" r="3.5"/></g>
<g id="s12"><circle class="y" cx="808" cy="191" r="3.5"/></g>
<g id="s13"><circle class="y" cx="669" cy="205" r="3"/></g>
<g id="s14"><circle class="b" cx="865" cy="204" r="4.5"/></g>
<g id="s15"><circle class="b" cx="896" cy="213" r="4.5"/></g>
<g id="s16"><circle class="b" cx="728" cy="235" r="3.5"/></g>
<g id="s17"><circle class="b" cx="777" cy="232" r="3.5"/></g>
<g id="s18"><circle class="b" cx="817" cy="243" r="4"/></g>
<g id="s19"><circle class="b" cx="861" cy="241" r="5.5"/></g>
<g id="s20"><circle class="p" cx="983" cy="66" r="3"/></g>
<g id="s21"><circle class="p" cx="1047" cy="73" r="3"/></g>
<g id="s22"><circle class="p" cx="1013" cy="100" r="4"/></g>
<g id="s23"><circle class="y" cx="1107" cy="117" r="3"/></g>
<g id="s24"><circle class="p" cx="942" cy="131" r="3.5"/></g>
<g id="s25"><circle class="y" cx="1046" cy="135" r="3.5"/></g>
<g id="s26"><circle class="p" cx="960" cy="167" r="3.5"/></g>
<g id="s27"><circle class="p" cx="1015" cy="172" r="4.5"/></g>
<g id="s28"><circle class="y" cx="1082" cy="174" r="2"/></g>
<g id="s29"><circle class="y" cx="1161" cy="165" r="4"/></g>
<g id="s30"><circle class="b" cx="988" cy="188" r="4.5"/></g>
<g id="s31"><circle class="p" cx="1093" cy="211" r="4"/></g>
<g id="s32"><circle class="y" cx="1216" cy="217" r="4"/></g>
<g id="s33"><circle class="b" cx="970" cy="218" r="5.5"/></g>
<g id="s34"><circle class="p" cx="1008" cy="220" r="4"/></g>
<g id="s35"><circle class="p" cx="1078" cy="227" r="5.5"/></g>
<g id="s36"><circle class="p" cx="1157" cy="234" r="4"/></g>
<g id="s37"><circle class="b" cx="947" cy="242" r="2.5"/></g>
<g id="s38"><circle class="b" cx="679" cy="260" r="3.5"/></g>
<g id="s39"><circle class="b" cx="727" cy="275" r="4"/></g>
<g id="s41"><circle class="b" cx="904" cy="260" r="5"/></g>
<g id="s42"><circle class="b" cx="792" cy="288" r="4"/></g>
<g id="s43"><circle class="p" cx="897" cy="296" r="5"/></g>
<g id="s45"><circle class="y" cx="855" cy="312" r="5.5"/></g>
<g id="s46"><circle class="b" cx="752" cy="316" r="3"/></g>
<g id="s47"><circle class="g" cx="932" cy="328" r="3.5"/></g>
<g id="s48"><circle class="y" cx="693" cy="334" r="4"/></g>
<g id="s49"><circle class="b" cx="777" cy="337" r="2"/></g>
<g id="s50"><circle class="d" cx="900" cy="345" r="3.5"/></g>
<g id="s51"><circle class="g" cx="660" cy="365" r="4.5"/></g>
<g id="s53"><circle class="g" cx="810" cy="377" r="5"/></g>
<g id="s54"><circle class="g" cx="914" cy="377" r="3.5"/></g>
<g id="s55"><circle class="b" cx="758" cy="395" r="4"/></g>
<g id="s60"><circle class="b" cx="694" cy="413" r="2.5"/></g>
<g id="s61"><circle class="g" cx="822" cy="413" r="3.5"/></g>
<g id="s62"><circle class="g" cx="756" cy="427" r="4"/></g>
<g id="s63"><circle class="g" cx="794" cy="429" r="3.5"/></g>
<g id="s64"><circle class="g" cx="826" cy="440" r="3.5"/></g>
<g id="s65"><circle class="g" cx="871" cy="438" r="4"/></g>
<g id="s66"><circle class="g" cx="695" cy="448" r="3"/></g>
<g id="s67"><circle class="p" cx="946" cy="287" r="5.5"/></g>
<g id="s68"><circle class="p" cx="1041" cy="273" r="5.5"/></g>
<g id="s69"><circle class="p" cx="1068" cy="266" r="4"/></g>
<g id="s70"><circle class="p" cx="1098" cy="269" r="3.5"/></g>
<g id="s71"><circle class="y" cx="1145" cy="269" r="3"/></g>
<g id="s72"><circle class="p" cx="1181" cy="277" r="4.5"/></g>
<g id="s73"><circle class="y" cx="1247" cy="279" r="5"/></g>
<g id="s74"><circle class="p" cx="987" cy="299" r="4"/></g>
<g id="s75"><circle class="d" cx="1030" cy="308" r="4"/></g>
<g id="s76"><circle class="p" cx="1065" cy="306" r="4"/></g>
<g id="s77"><circle class="p" cx="1122" cy="310" r="4"/></g>
<g id="s78"><circle class="p" cx="1157" cy="316" r="5.5"/></g>
<g id="s80"><circle class="p" cx="1065" cy="337" r="5.5"/></g>
<g id="s81"><circle class="p" cx="1196" cy="337" r="4"/></g>
<g id="s82"><circle class="y" cx="1155" cy="348" r="2.5"/></g>
<g id="s83"><circle class="g" cx="943" cy="357" r="3"/></g>
<g id="s84"><circle class="d" cx="993" cy="359" r="3"/></g>
<g id="s85"><circle class="p" cx="1097" cy="359" r="4.5"/></g>
<g id="s86"><circle class="p" cx="1223" cy="361" r="3.5"/></g>
<g id="s87"><circle class="d" cx="969" cy="375" r="4"/></g>
<g id="s88"><circle class="d" cx="1044" cy="378" r="2.5"/></g>
<g id="s89"><circle class="p" cx="1107" cy="385" r="4.5"/></g>
<g id="s90"><circle class="p" cx="1136" cy="381" r="4"/></g>
<g id="s91"><circle class="d" cx="1126" cy="410" r="3.5"/></g>
<g id="s92"><circle class="d" cx="1177" cy="411" r="3"/></g>
<g id="s93"><circle class="g" cx="1000" cy="419" r="3.5"/></g>
<g id="s94"><circle class="d" cx="1049" cy="419" r="3.5"/></g>
<g id="s95"><circle class="p" cx="1096" cy="435" r="2.5"/></g>
<g id="s96"><circle class="y" cx="1247" cy="424" r="3.5"/></g>
<g id="s97"><circle class="g" cx="765" cy="463" r="3.5"/></g>
<g id="s98"><circle class="g" cx="804" cy="453" r="3.5"/></g>
<g id="s100"><circle class="g" cx="891" cy="466" r="4"/></g>
<g id="s101"><circle class="g" cx="712" cy="490" r="3.5"/></g>
<g id="s102"><circle class="g" cx="785" cy="483" r="4.5"/></g>
<g id="s103"><circle class="g" cx="812" cy="490" r="3.5"/></g>
<g id="s104"><circle class="g" cx="746" cy="502" r="3.5"/></g>
<g id="s105"><circle class="g" cx="844" cy="505" r="4"/></g>
<g id="s106"><circle class="d" cx="917" cy="509" r="4.5"/></g>
<g id="s107"><circle class="g" cx="772" cy="515" r="3.5"/></g>
<g id="s108"><circle class="d" cx="812" cy="522" r="2"/></g>
<g id="s109"><circle class="g" cx="791" cy="545" r="3.5"/></g>
<g id="s110"><circle class="g" cx="875" cy="545" r="3"/></g>
<g id="s111"><circle class="g" cx="829" cy="564" r="3"/></g>
<g id="s112"><circle class="b" cx="894" cy="584" r="3"/></g>
<g id="s113"><circle class="k" cx="934" cy="643" r="3.5"/></g>
<g id="s114"><circle class="d" cx="976" cy="457" r="3"/></g>
<g id="s115"><circle class="d" cx="1027" cy="470" r="3.5"/></g>
<g id="s116"><circle class="d" cx="997" cy="487" r="4.5"/></g>
<g id="s117"><circle class="y" cx="1068" cy="473" r="4"/></g>
<g id="s118"><circle class="s" cx="1131" cy="471" r="3.5"/></g>
<g id="s119"><circle class="y" cx="1177" cy="457" r="3"/></g>
<g id="s120"><circle class="g" cx="943" cy="483" r="4.5"/></g>
<g id="s121"><circle class="s" cx="955" cy="514" r="4"/><circle class="dr" cx="955" cy="514" r="2.2"/><circle class="dt" cx="955" cy="514" r="1"/></g>
<g id="s122"><circle class="d" cx="1024" cy="525" r="3.5"/></g>
<g id="s123"><circle class="s" cx="1153" cy="520" r="3"/></g>
<g id="s124"><circle class="d" cx="1200" cy="501" r="3.5"/></g>
<g id="s125"><circle class="y" cx="1088" cy="537" r="4"/></g>
<g id="s126"><circle class="d" cx="945" cy="555" r="3.5"/></g>
<g id="s127"><circle class="d" cx="1160" cy="565" r="2.5"/></g>
<g id="s128"><circle class="d" cx="981" cy="587" r="2.5"/></g>
<g id="s129"><circle class="y" cx="1091" cy="586" r="4"/></g>
<g id="s130"><circle class="k" cx="1046" cy="609" r="4"/><circle class="dr" cx="1046" cy="609" r="2.2"/><circle class="dt" cx="1046" cy="609" r="1"/></g>
<g id="s131"><circle class="k" cx="1006" cy="618" r="4"/></g>
<g id="s132"><circle class="y" cx="979" cy="647" r="3"/></g>
<g id="m12" class="lb"><line x1="214" y1="131" x2="214" y2="143"/><circle class="b" cx="214" cy="147" r="4.5"/><rect x="179" y="120" width="70" height="11" rx="1.5"/><text x="214" y="128.8">B. massiliensis</text></g>
<g id="m26" class="lb"><line x1="248" y1="197" x2="248" y2="208"/><circle class="b" cx="248" cy="213" r="5"/><rect x="219" y="185" width="58" height="12" rx="1.5"/><text x="248" y="194.2">A. putredinis</text></g>
<g id="m41" class="lb"><line x1="191" y1="261" x2="191" y2="272"/><circle class="b" cx="191" cy="277" r="5"/><rect x="155" y="250" width="74" height="11" rx="1.5"/><text x="192" y="258.8">O. splanchnicus</text></g>
<g id="m43" class="lb"><line x1="299" y1="271" x2="299" y2="283"/><circle class="p" cx="299" cy="288" r="5"/><circle class="dr" cx="299" cy="288" r="2.5"/><circle class="dt" cx="299" cy="288" r="1.1"/><rect x="270" y="260" width="57" height="11" rx="1.5"/><text x="298.5" y="268.8">B. uniformis</text></g>
<g id="m47" class="lb"><line x1="164" y1="309" x2="164" y2="320"/><circle class="b" cx="164" cy="325" r="4.5"/><rect x="144" y="298" width="41" height="11" rx="1.5"/><text x="164.5" y="306.8">A. shahii</text></g>
<g id="m101" class="lb"><line x1="380" y1="331" x2="380" y2="342"/><circle class="b" cx="380" cy="347" r="4.5"/><circle class="dr" cx="380" cy="347" r="2.3"/><circle class="dt" cx="380" cy="347" r="1"/><rect x="348" y="320" width="66" height="11" rx="1.5"/><text x="381" y="328.8">G. pamelaeae</text></g>
<g id="m54" class="lb"><line x1="163" y1="361" x2="163" y2="371"/><circle class="g" cx="163" cy="377" r="6"/><circle class="dr" cx="163" cy="377" r="3"/><circle class="dt" cx="163" cy="377" r="1.2"/><rect x="132" y="349" width="61" height="12" rx="1.5"/><text x="162.5" y="358.2">F. prausnitzii</text></g>
<g id="m59" class="lb"><line x1="264" y1="401" x2="262" y2="414"/><circle class="g" cx="262" cy="419" r="5.5"/><rect x="238" y="390" width="54" height="11" rx="1.5"/><text x="265" y="398.8">B. wexlerae</text></g>
<g id="m61" class="lb"><line x1="147" y1="413" x2="147" y2="424"/><circle class="g" cx="147" cy="429" r="5"/><rect x="104" y="402" width="85" height="11" rx="1.5"/><text x="146.5" y="410.8">D. formicigenerans</text></g>
<g id="m64" class="lb"><line x1="224" y1="419" x2="224" y2="433"/><circle class="g" cx="224" cy="438" r="5.5"/><rect x="199" y="408" width="49" height="11" rx="1.5"/><text x="223.5" y="416.8">A. hadrus</text></g>
<g id="m67" class="lb"><line x1="196" y1="438" x2="197" y2="447"/><circle class="g" cx="197" cy="452" r="5"/><rect x="171" y="427" width="47" height="11" rx="1.5"/><text x="194.5" y="435.8">E. rectale</text></g>
<g id="m68" class="lb"><line x1="272" y1="438" x2="272" y2="448"/><circle class="g" cx="272" cy="453" r="5"/><rect x="254" y="427" width="39" height="11" rx="1.5"/><text x="273.5" y="435.8">E. hallii</text></g>
<g id="s40" class="lb"><line x1="839" y1="261" x2="839" y2="272"/><circle class="b" cx="839" cy="277" r="4.5"/><circle class="dr" cx="839" cy="277" r="2.3"/><circle class="dt" cx="839" cy="277" r="1"/><rect x="802" y="249" width="74" height="12" rx="1.5"/><text x="839" y="258.2">O. splanchnicus</text></g>
<g id="s44" class="lb"><line x1="812" y1="309" x2="812" y2="321"/><circle class="g" cx="812" cy="325" r="4"/><rect x="791" y="298" width="42" height="11" rx="1.5"/><text x="812" y="306.8">A. shahii</text></g>
<g id="s79" class="lb"><line x1="1028" y1="331" x2="1028" y2="342"/><circle class="p" cx="1028" cy="347" r="5"/><circle class="dr" cx="1028" cy="347" r="2.5"/><circle class="dt" cx="1028" cy="347" r="1.1"/><rect x="995" y="320" width="66" height="11" rx="1.5"/><text x="1028" y="328.8">G. pamelaeae</text></g>
<g id="s52" class="lb"><line x1="840" y1="369" x2="840" y2="380"/><circle class="g" cx="840" cy="385" r="4.5"/><rect x="817" y="358" width="46" height="11" rx="1.5"/><text x="840" y="366.8">B. obeum</text></g>
<g id="s57" class="lb"><line x1="910" y1="394" x2="910" y2="414"/><circle class="g" cx="910" cy="419" r="4.5"/><rect x="885" y="383" width="54" height="11" rx="1.5"/><text x="912" y="391.8">B. wexlerae</text></g>
<g id="s56" class="lb"><line x1="850" y1="403" x2="855" y2="407"/><circle class="g" cx="855" cy="412" r="5"/><circle class="dr" cx="855" cy="412" r="2.5"/><circle class="dt" cx="855" cy="412" r="1.1"/><rect x="813" y="391" width="68" height="12" rx="1.5"/><text x="847" y="400.2">C. aerofaciens</text></g>
<g id="s58" class="lb"><line x1="940" y1="413" x2="940" y2="422"/><circle class="d" cx="940" cy="427" r="5"/><rect x="914" y="401" width="57" height="12" rx="1.5"/><text x="942.5" y="410.2">S. salivarius</text></g>
<g id="s59" class="lb"><line x1="918" y1="438" x2="920" y2="445"/><circle class="g" cx="920" cy="450" r="5"/><rect x="896" y="427" width="39" height="11" rx="1.5"/><text x="915.5" y="435.8">E. hallii</text></g>
<g id="s99" class="lb"><line x1="850" y1="463" x2="850" y2="474"/><circle class="g" cx="850" cy="478" r="4"/><rect x="815" y="451" width="71" height="12" rx="1.5"/><text x="850.5" y="460.2">R. inulinivorans</text></g>
</svg>
